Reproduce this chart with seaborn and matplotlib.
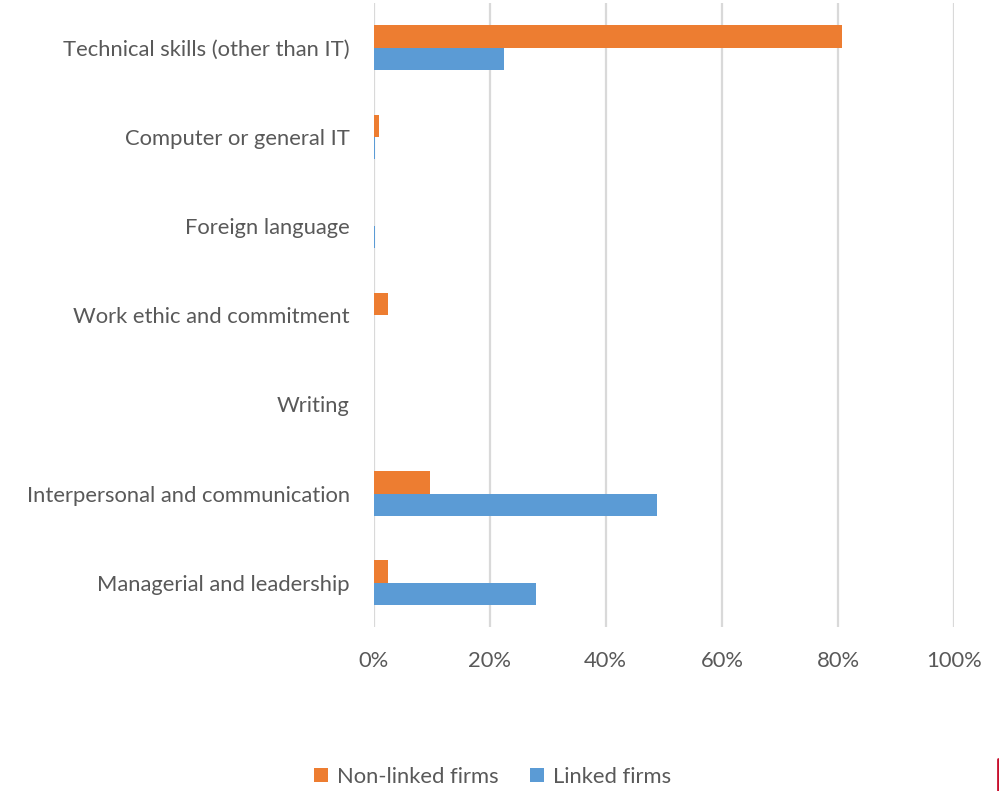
import matplotlib
matplotlib.use("Agg")
import matplotlib.pyplot as plt
from matplotlib.patches import Patch
from matplotlib.lines import Line2D
import seaborn as sns
import pandas as pd

categories = [
    "Technical skills (other than IT)",
    "Computer or general IT",
    "Foreign language",
    "Work ethic and commitment",
    "Writing",
    "Interpersonal and communication",
    "Managerial and leadership",
]
non_linked = [80.7, 1.0, 0.0, 2.4, 0.0, 9.7, 2.5]
linked = [22.5, 0.3, 0.2, 0.0, 0.0, 48.8, 28.0]
series = ["Non-linked firms", "Linked firms"]
colors = ["#ED7D31", "#5B9BD5"]
x_ticks = [0, 20, 40, 60, 80, 100]

df = pd.DataFrame({
    "skill": categories * 2,
    "share": non_linked + linked,
    "group": [series[0]] * len(categories) + [series[1]] * len(categories),
})

sns.set_theme(style="white")
plt.rcParams["font.family"] = ["Lato", "DejaVu Sans"]
text_color = "#595959"
fs = 15.8

fig = plt.figure(figsize=(9.99, 7.91), dpi=100)
ax = fig.add_axes([0.374, 0.207, 0.581, 0.789])

sns.barplot(data=df, y="skill", x="share", hue="group", order=categories,
            hue_order=series, palette=colors, orient="h", width=0.5,
            saturation=1, linewidth=0, ax=ax, legend=False)

ax.set_xlim(0, 100)
ax.set_ylim(len(categories) - 0.5, -0.5)
ax.set_xticks(x_ticks)
ax.set_xticklabels([f"{t}%" for t in x_ticks])
ax.set_xlabel("")
ax.set_ylabel("")
ax.grid(axis="x", color="#D9D9D9", linewidth=1.6)
ax.set_axisbelow(True)
for s in ax.spines.values():
    s.set_visible(False)
ax.tick_params(axis="x", length=0, pad=17, labelsize=fs, labelcolor=text_color)
ax.tick_params(axis="y", length=0, pad=17, labelsize=fs, labelcolor=text_color)

handles = [Patch(facecolor=c, edgecolor="none") for c in colors]
fig.legend(handles, series, loc="center", bbox_to_anchor=(0.493, 0.018),
           ncol=2, frameon=False, fontsize=fs, labelcolor=text_color,
           handlelength=0.65, handleheight=0.65, handletextpad=0.4,
           columnspacing=1.4)

# thin accent mark at the lower right edge
fig.add_artist(Line2D([0.9985, 0.9985], [0.0, 0.04], color="#C8102E",
                      linewidth=2, transform=fig.transFigure))

fig.savefig("out.png", dpi=100)
